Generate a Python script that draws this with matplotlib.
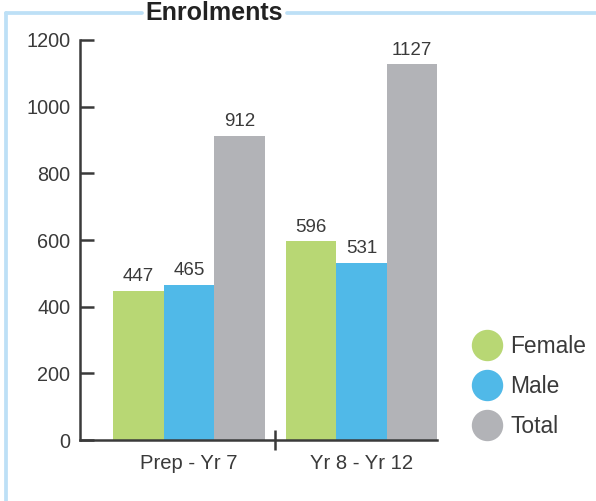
import matplotlib
matplotlib.use('Agg')
import matplotlib.pyplot as plt
from matplotlib.lines import Line2D
import numpy as np

plt.rcParams['font.family'] = ['Liberation Sans', 'DejaVu Sans']

# data
groups = ['Prep - Yr 7', 'Yr 8 - Yr 12']
series = ['Female', 'Male', 'Total']
female = [447, 596]
male = [465, 531]
total = [912, 1127]
colors = ['#b8d774', '#50b9e8', '#b2b3b7']
text_col = '#3a3a3a'
border_col = '#bde0f6'

W, H = 596, 501
fig = plt.figure(figsize=(W / 100, H / 100), dpi=100)
ax = fig.add_axes([80 / W, 1 - 440 / H, (437 - 80) / W, 400 / H])

x = np.arange(len(groups))
bw = 0.292
for i, (vals, name) in enumerate(zip([female, male, total], series)):
    bars = ax.bar(x + (i - 1) * bw, vals, width=bw, color=colors[i], label=name, zorder=1)
    ax.bar_label(bars, padding=4, fontsize=13.5, color=text_col)

ax.set_xlim(-0.632, 1.438)
ax.set_ylim(0, 1200)
ax.set_yticks(range(0, 1201, 200))

for s in ['top', 'right']:
    ax.spines[s].set_visible(False)
for s in ['left', 'bottom']:
    ax.spines[s].set_color(text_col)
    ax.spines[s].set_linewidth(1.8)

ax.tick_params(axis='y', direction='in', length=10, width=1.8, color=text_col,
               labelsize=14.3, labelcolor=text_col, pad=7)
# divider tick between the groups, category names as minor labels
ax.set_xticks([0.5])
ax.set_xticklabels([''])
ax.tick_params(axis='x', which='major', direction='inout', length=15, width=1.8, color=text_col)
ax.set_xticks(x, minor=True)
ax.set_xticklabels(groups, minor=True)
ax.tick_params(axis='x', which='minor', length=0, labelsize=14.6, labelcolor=text_col, pad=10)

# frame around the chart
lw = 2.7
fig.add_artist(Line2D([6 / W, 6 / W], [1 - 13 / H, -0.05], color=border_col, lw=lw,
                      solid_capstyle='round', transform=fig.transFigure))
fig.add_artist(Line2D([6 / W, 142 / W], [1 - 13 / H, 1 - 13 / H], color=border_col, lw=lw,
                      solid_capstyle='round', transform=fig.transFigure))
fig.add_artist(Line2D([287 / W, 1.05], [1 - 13 / H, 1 - 13 / H], color=border_col, lw=lw,
                      solid_capstyle='round', transform=fig.transFigure))
fig.text(214 / W, 1 - 19.5 / H, 'Enrolments', fontsize=18, fontweight='bold',
         color='#222222', ha='center', va='baseline')

handles = [Line2D([], [], marker='o', linestyle='none', markersize=21.6,
                  markerfacecolor=c, markeredgecolor=c) for c in colors]
fig.legend(handles, series, loc='upper left', bbox_to_anchor=(474.5 / W, 1 - 335 / H),
           frameon=False, fontsize=16.4, labelcolor=text_col, handlelength=1.1,
           handletextpad=0.46, labelspacing=0.74, borderpad=0, borderaxespad=0)

fig.savefig('out.png', dpi=100)
